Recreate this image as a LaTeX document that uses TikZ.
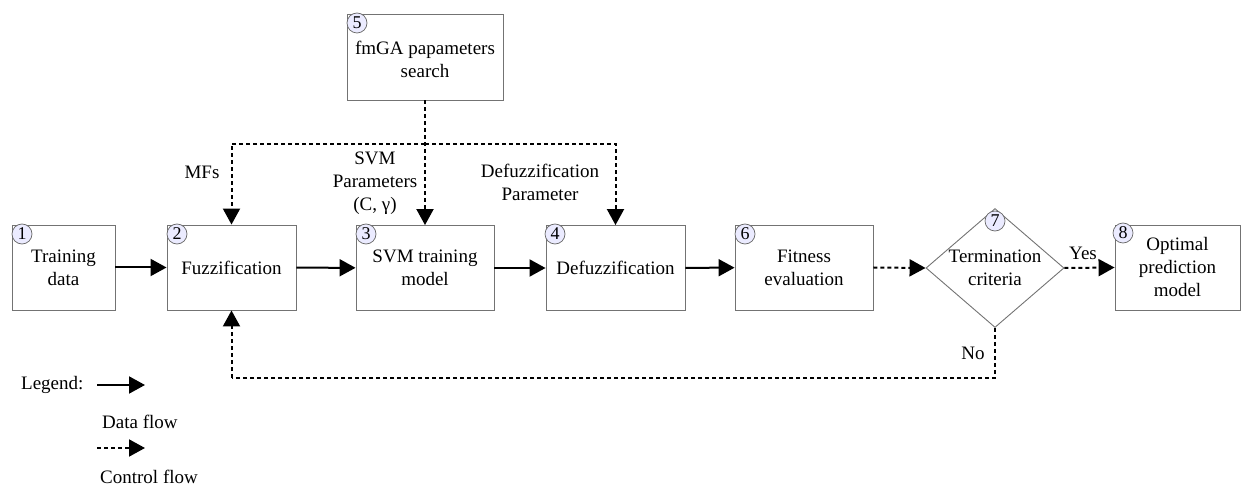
\documentclass[tikz,border=0pt]{standalone}
\usepackage{fontspec}
\setmainfont{Liberation Serif}
\usetikzlibrary{arrows.meta,shapes.geometric,calc}
\begin{document}
\begin{tikzpicture}[x=1pt,y=-1pt,
  every node/.style={font=\fontsize{19}{23}\selectfont},
  box/.style={draw=black!55,line width=0.9pt,inner sep=0pt,align=center},
  num/.style={circle,draw=black!60,fill=blue!8!white,line width=0.7pt,inner sep=0pt,minimum size=20pt,font=\fontsize{18}{18}\selectfont},
  data/.style={line width=2pt,-{Triangle[length=16pt,width=17pt]}},
  ctrl/.style={line width=2pt,dash pattern=on 4pt off 3pt,-{Triangle[length=16pt,width=17pt]}},
  ctrlline/.style={line width=2pt,dash pattern=on 4pt off 3pt},
  lbl/.style={align=center,inner sep=0pt}]
\useasboundingbox (0,0) rectangle (1242,486);
% boxes
\node[box,minimum width=103pt,minimum height=85pt] (b1) at (63.5,267.5) {Training\\data};
\node[box,minimum width=129pt,minimum height=85pt] (b2) at (231.5,267.5) {Fuzzification};
\node[box,minimum width=138pt,minimum height=85pt] (b3) at (425,268) {SVM training\\model};
\node[box,minimum width=139pt,minimum height=85pt] (b4) at (615.5,268) {Defuzzification};
\node[box,minimum width=138pt,minimum height=85pt] (b6) at (804,267.5) {Fitness\\evaluation};
\node[box,minimum width=156pt,minimum height=86pt] (b5) at (425,57) {\\[-4pt]fmGA papameters\\search};
\node[box,minimum width=125pt,minimum height=85pt] (b8) at (1177.5,267.5) {Optimal\\prediction\\model};
\node[draw=black!55,line width=0.9pt,diamond,inner sep=0pt,minimum width=138pt,minimum height=119pt] (d7) at (995,268) {};
\node[lbl] (t7) at (995,268) {Termination\\criteria};
% numbers
\node[num] (n1) at (22,234) {1};
\node[num] (n2) at (177,234) {2};
\node[num] (n3) at (366,234) {3};
\node[num] (n4) at (555,234) {4};
\node[num] (n5) at (357,23) {5};
\node[num] (n6) at (745,234) {6};
\node[num] (n7) at (995,221) {7};
\node[num] (n8) at (1123,233) {8};
% data flow
\draw[data] (b1) -- (b2);
\draw[data] (b2) -- (b3);
\draw[data] (b3) -- (b4);
\draw[data] (b4) -- (b6);
% control flow
\draw[ctrl] (b6.east) -- (d7.west);
\draw[ctrl] (d7.east) -- (b8.west);
\coordinate (c0) at (425,144);
\draw[ctrl] (b5.south) -- (b3.north);
\draw[ctrl] (c0) -| (b2.north);
\draw[ctrl] (c0) -| (b4.north);
\coordinate (fb) at (231.5,378);
\draw[ctrlline] (d7.south) |- (fb);
\draw[ctrl] (fb) -- (b2.south);
% labels
\node[lbl] (lmf) at (202,172) {MFs};
\node[lbl] (lsvm) at (375,183) {SVM\\Parameters\\(C, γ)};
\node[lbl] (ldef) at (540,182) {Defuzzification\\Parameter};
\node[lbl] (lyes) at (1083,253) {Yes};
\node[lbl] (lno) at (973,353) {No};
% legend
\node[lbl,anchor=west] (leg) at (21,385) {Legend:};
\coordinate (la1) at (97,385);
\coordinate (la2) at (145,385);
\draw[data] (la1) -- (la2);
\node[lbl,anchor=west] (ldf) at (102,422) {Data flow};
\coordinate (lb1) at (97,448);
\coordinate (lb2) at (145,448);
\draw[ctrl] (lb1) -- (lb2);
\node[lbl,anchor=west] (lcf) at (100,477) {Control flow};
\end{tikzpicture}
\end{document}
